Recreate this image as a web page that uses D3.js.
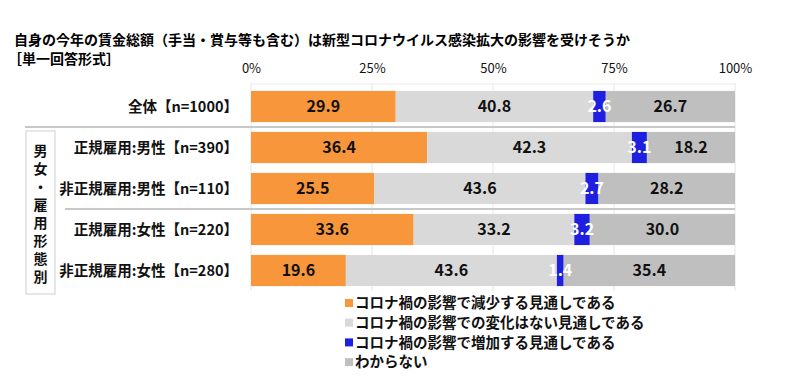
<!DOCTYPE html>
<html>
<head>
<meta charset="utf-8">
<script src="https://cdn.jsdelivr.net/npm/d3@7"></script>
<style>
  body { margin: 0; background: #fff; }
  svg text { font-family: "Noto Sans CJK JP", "Noto Sans", sans-serif; }
</style>
</head>
<body>
<div id="chart"></div>
<script>
// data
const categories = ["全体【n=1000】", "正規雇用:男性【n=390】", "非正規雇用:男性【n=110】", "正規雇用:女性【n=220】", "非正規雇用:女性【n=280】"];
const decrease = [29.9, 36.4, 25.5, 33.6, 19.6];
const noChange = [40.8, 42.3, 43.6, 33.2, 43.6];
const increase = [2.6, 3.1, 2.7, 3.2, 1.4];
const unknown = [26.7, 18.2, 28.2, 30.0, 35.4];
const seriesNames = ["コロナ禍の影響で減少する見通しである", "コロナ禍の影響での変化はない見通しである", "コロナ禍の影響で増加する見通しである", "わからない"];
const tickValues = [0, 25, 50, 75, 100];
const groupLabel = "男女・雇用形態別";

const width = 800, height = 388;
const colors = ["#F7963A", "#D9D9D9", "#1F1FE0", "#BFBFBF"];
const labelColors = ["#111", "#111", "#fff", "#111"];

const svg = d3.select("#chart").append("svg")
  .attr("width", width).attr("height", height);

// title
svg.append("text").attr("x", 14).attr("y", 45)
  .attr("font-size", 14).attr("font-weight", "bold")
  .text("自身の今年の賃金総額（手当・賞与等も含む）は新型コロナウイルス感染拡大の影響を受けそうか");
svg.append("text").attr("x", 8).attr("y", 64)
  .attr("font-size", 14).attr("font-weight", "bold")
  .text("［単一回答形式］");

// scales
const x = d3.scaleLinear().domain([0, 100]).range([251, 735]);
const y = d3.scaleBand().domain(categories).range([86, 291])
  .paddingInner(0.24).paddingOuter(0.12);

// axis labels on top
const axis = svg.append("g").attr("transform", "translate(0,76)")
  .call(d3.axisTop(x).tickValues(tickValues).tickFormat(d => d + "%").tickSize(0));
axis.select(".domain").remove();
axis.selectAll("text").attr("font-size", 13).attr("fill", "#111")
  .attr("font-family", "\"Liberation Sans Narrow\", \"Noto Sans CJK JP\", sans-serif").attr("dy", 0);

// gridlines
svg.append("g").selectAll("line").data(tickValues).join("line")
  .attr("x1", d => x(d)).attr("x2", d => x(d))
  .attr("y1", 83).attr("y2", 291)
  .attr("stroke", "#e4e4e4").attr("stroke-width", 1);
svg.append("line").attr("x1", x(0)).attr("x2", x(100)).attr("y1", 84).attr("y2", 84)
  .attr("stroke", "#ececec");

// stack
const rows = categories.map((c, i) => ({ cat: c, vals: [decrease[i], noChange[i], increase[i], unknown[i]] }));
rows.forEach(r => {
  let acc = 0;
  r.segs = r.vals.map((v, k) => { const s = { k, v, x0: acc, x1: acc + v }; acc += v; return s; });
});

const rowG = svg.append("g").selectAll("g").data(rows).join("g")
  .attr("transform", d => `translate(0,${y(d.cat)})`);

rowG.selectAll("rect").data(d => d.segs).join("rect")
  .attr("x", d => x(d.x0)).attr("width", d => x(d.x1) - x(d.x0))
  .attr("y", 0).attr("height", y.bandwidth())
  .attr("fill", d => colors[d.k]);

rowG.selectAll("text.val").data(d => d.segs).join("text")
  .attr("class", "val")
  .attr("x", d => (x(d.x0) + x(d.x1)) / 2)
  .attr("y", y.bandwidth() / 2).attr("dy", "0.36em")
  .attr("text-anchor", "middle").attr("font-size", 16).attr("font-weight", "bold")
  .attr("font-family", "\"Liberation Sans\", Arial, sans-serif")
  .attr("fill", d => labelColors[d.k])
  .text(d => d.v.toFixed(1));

// category labels
svg.append("g").selectAll("text").data(categories).join("text")
  .attr("x", 238).attr("y", d => y(d) + y.bandwidth() / 2).attr("dy", "0.36em")
  .attr("text-anchor", "end").attr("font-size", 14.5).attr("font-weight", "bold")
  .attr("fill", "#111").text(d => d);

// separators
const gapMid = (a, b) => (y(categories[a]) + y.bandwidth() + y(categories[b])) / 2;
svg.append("line").attr("x1", 25).attr("x2", 735)
  .attr("y1", gapMid(0, 1)).attr("y2", gapMid(0, 1))
  .attr("stroke", "#c8c8c8").attr("stroke-width", 2);
svg.append("line").attr("x1", 65).attr("x2", 735)
  .attr("y1", gapMid(2, 3)).attr("y2", gapMid(2, 3))
  .attr("stroke", "#c8c8c8").attr("stroke-width", 2);

// group box with vertical label
svg.append("rect").attr("x", 26).attr("y", 131).attr("width", 29).attr("height", 163)
  .attr("fill", "#fff").attr("stroke", "#cfcfcf").attr("stroke-width", 1);
svg.append("text")
  .attr("x", 40.5).attr("y", 144)
  .style("writing-mode", "vertical-rl")
  .style("letter-spacing", "4px")
  .attr("font-size", 14).attr("font-weight", "bold")
  .attr("fill", "#111").text(groupLabel);

// legend
const lg = svg.append("g").selectAll("g").data(seriesNames).join("g")
  .attr("transform", (d, i) => `translate(345,${303 + i * 19.7})`);
lg.append("rect").attr("x", 0).attr("y", -4).attr("width", 8).attr("height", 8)
  .attr("fill", (d, i) => colors[i]);
lg.append("text").attr("x", 10).attr("y", 0).attr("dy", "0.36em")
  .attr("font-size", 14.5).attr("font-weight", "bold").attr("fill", "#111")
  .text(d => d);
</script>
</body>
</html>
